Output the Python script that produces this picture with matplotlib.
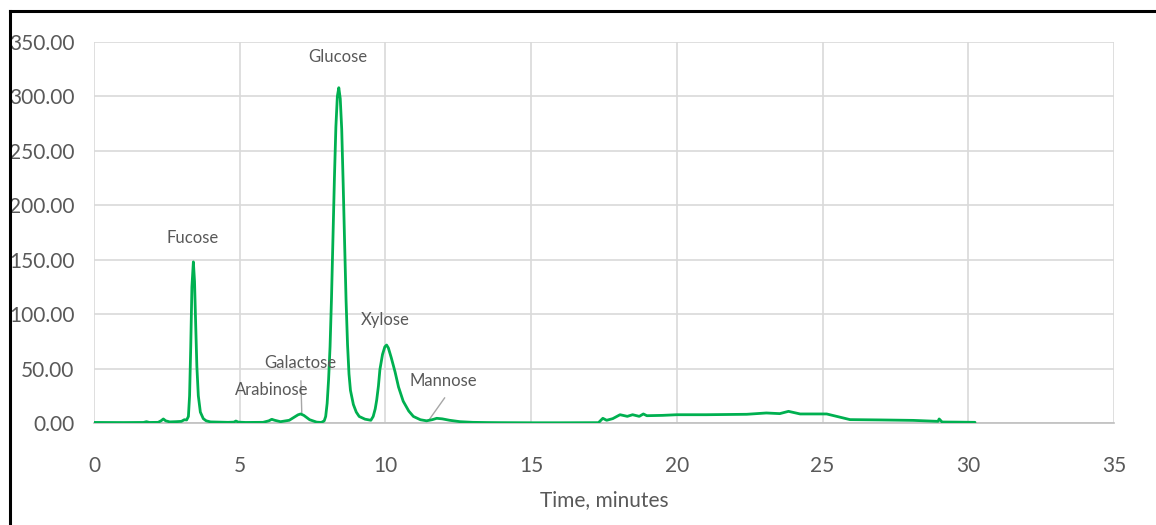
import matplotlib.pyplot as plt
from matplotlib.lines import Line2D

# chromatogram
time_min = [0.0, 1.0, 1.7, 1.8, 1.9, 2.2, 2.3, 2.38, 2.46, 2.6, 2.8, 3.0, 3.1, 3.18, 3.24,
            3.28, 3.32, 3.36, 3.41, 3.45, 3.49, 3.53, 3.58, 3.65, 3.75, 3.85, 4.0, 4.6, 4.8,
            4.87, 4.95, 5.2, 5.8, 6.0, 6.1, 6.2, 6.4, 6.7, 6.85, 7.0, 7.09, 7.2, 7.4, 7.64,
            7.8, 7.9, 7.95, 8.0, 8.05, 8.1, 8.15, 8.2, 8.25, 8.3, 8.35, 8.4, 8.45, 8.5, 8.55,
            8.6, 8.65, 8.7, 8.75, 8.8, 8.9, 9.0, 9.1, 9.3, 9.5, 9.58, 9.65, 9.7, 9.76, 9.81,
            9.9, 9.98, 10.04, 10.1, 10.2, 10.33, 10.45, 10.61, 10.8, 10.96, 11.2, 11.41,
            11.6, 11.76, 11.95, 12.2, 12.56, 13.0, 13.5, 14.0, 15.0, 16.0, 17.31, 17.46,
            17.59, 17.8, 18.05, 18.3, 18.48, 18.71, 18.85, 18.97, 19.5, 20.0, 21.0, 22.4,
            23.07, 23.53, 23.83, 24.23, 25.14, 25.48, 25.94, 27.0, 28.11, 28.96, 29.0,
            29.1, 29.6, 30.23]
signal = [0.5, 0.4, 0.5, 1.2, 0.5, 0.6, 2.0, 3.7, 2.0, 1.0, 1.2, 1.5, 3.0, 2.8, 6.0,
          25.0, 70.0, 125.0, 148.0, 130.0, 90.0, 52.0, 25.0, 10.0, 4.0, 2.0, 1.0, 0.6, 0.8,
          1.8, 0.8, 0.5, 0.6, 2.0, 3.4, 2.5, 1.2, 2.5, 5.0, 7.5, 8.3, 7.0, 3.0, 0.8,
          0.5, 2.0, 6.0, 18.0, 40.0, 70.0, 115.0, 170.0, 225.0, 272.0, 300.0, 308.0, 298.0, 270.0, 220.0,
          165.0, 112.0, 72.0, 45.0, 30.0, 17.0, 10.0, 6.0, 3.5, 2.5, 6.0, 13.0, 21.0, 34.0, 49.0,
          63.0, 70.0, 71.6, 69.0, 60.0, 47.0, 33.0, 20.0, 11.0, 6.0, 3.0, 2.0,
          3.0, 4.3, 3.8, 2.5, 1.2, 0.6, 0.4, 0.3, 0.2, 0.2, 0.3, 4.3,
          2.5, 4.0, 7.6, 6.1, 7.6, 6.1, 8.3, 6.7, 7.0, 7.6, 7.6, 8.0,
          9.2, 8.6, 10.7, 8.3, 8.3, 6.1, 3.1, 2.8, 2.4, 1.5, 3.7,
          0.9, 0.8, 0.6]

peak_names = ["Fucose", "Arabinose", "Galactose", "Glucose", "Xylose", "Mannose"]
label_x = [3.40, 6.11, 7.07, 8.35, 10.0, 11.98]
label_y = [170, 30, 55, 336, 95, 38.5]

x_ticks = [0, 5, 10, 15, 20, 25, 30, 35]
y_ticks = [0, 50, 100, 150, 200, 250, 300, 350]

plt.rcParams['font.family'] = ['Lato', 'DejaVu Sans']
text_grey = '#595959'

fig = plt.figure(figsize=(11.56, 5.25), dpi=100)
ax = fig.add_axes([0.0813, 0.1943, 0.8824, 0.7257])

ax.plot(time_min, signal, color='#00b050', lw=2.0, zorder=3,
        solid_joinstyle='round', solid_capstyle='round')

ax.set_xlim(0, 35)
ax.set_ylim(0, 350)
ax.set_xticks(x_ticks)
ax.set_yticks(y_ticks)
ax.set_yticklabels(['{:.2f}'.format(v) for v in y_ticks])
ax.tick_params(axis='both', length=0, labelsize=15, labelcolor=text_grey)
ax.tick_params(axis='y', pad=14)
ax.tick_params(axis='x', pad=24)
ax.grid(True, color='#d9d9d9', lw=1.2, zorder=0)
for side in ['top', 'right', 'left']:
    ax.spines[side].set_visible(False)
ax.spines['bottom'].set_color('#bfbfbf')
ax.spines['bottom'].set_linewidth(1.2)
ax.set_axisbelow(True)

ax.set_xlabel('Time, minutes', fontsize=15, color=text_grey, labelpad=10)

for name, lx, ly in zip(peak_names, label_x, label_y):
    ax.text(lx, ly, name, fontsize=12, color=text_grey, ha='center', va='center')

# leader lines for the small peaks
ax.plot([7.10, 7.13], [38.6, 9.0], color='#a6a6a6', lw=1)
ax.plot([12.03, 11.5], [23.0, 3.0], color='#a6a6a6', lw=1)

# black frame at top and left of the picture
fig.add_artist(Line2D([10 / 1156, 1], [1 - 11 / 525, 1 - 11 / 525], color='black', lw=2.2))
fig.add_artist(Line2D([10 / 1156, 10 / 1156], [0, 1 - 11 / 525], color='black', lw=2.2))

fig.savefig('out.png', dpi=100)
